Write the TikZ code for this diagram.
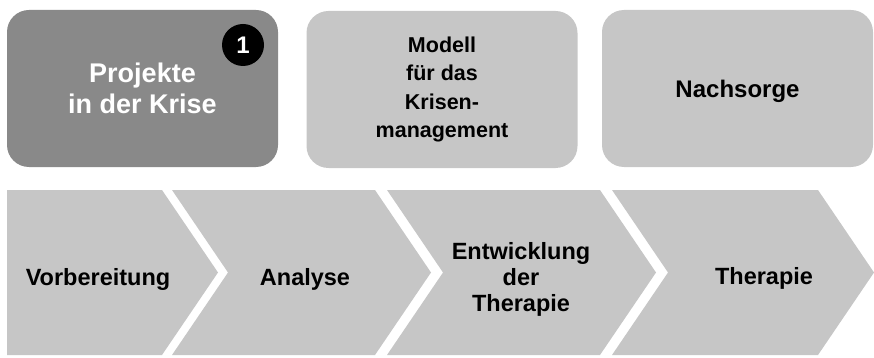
\documentclass[tikz,border=0pt]{standalone}
\usepackage{fontspec}
\setmainfont{Liberation Sans}
\usepackage{tikz}
\definecolor{darkbox}{HTML}{898989}
\definecolor{lightbox}{HTML}{C6C6C6}

\begin{document}
\begin{tikzpicture}[x=1pt, y=-1pt,
  box/.style={rounded corners=22pt, minimum width=271pt, minimum height=157pt,
    align=center, inner sep=0pt, font=\bfseries},
  lbl/.style={align=center, font=\bfseries\fontsize{23.5}{26}\selectfont}]
\useasboundingbox (0,0) rectangle (874,358);
% top row
\node[box, fill=darkbox, text=white, font=\bfseries\fontsize{27}{30.4}\selectfont]
  (krise) at (142.5,88.5) {Projekte\\in der Krise};
\node[box, fill=lightbox, font=\bfseries\fontsize{21.5}{28.5}\selectfont]
  (modell) at (442,89.5) {Modell\\für das\\Krisen-\\management};
\node[box, fill=lightbox, text depth=0pt, font=\bfseries\fontsize{24}{28}\selectfont]
  (nach) at (737.5,88.5) {Nachsorge};
\node[circle, fill=black, text=white, minimum size=42pt, inner sep=0pt,
  font=\bfseries\fontsize{24}{24}\selectfont] (eins) at (243,45) {1};
% phases
\fill[lightbox] (7,190) -- (162,190) -- (218,272.5) -- (162,355) -- (7,355) -- cycle;
\foreach \a/\b in {172/375, 387/600, 612/818}
  \fill[lightbox] (\a,190) -- (\b,190) -- (\b+56,272.5) -- (\b,355) -- (\a,355)
    -- (\a+56,272.5) -- cycle;
\node[lbl, text depth=0pt] (vorb) at (98,277) {Vorbereitung};
\node[lbl, text depth=0pt] (anal) at (305,277) {Analyse};
\node[lbl] (entw) at (521,279) {Entwicklung\\der\\Therapie};
\node[lbl, text depth=0pt] (ther) at (764,276) {Therapie};
\end{tikzpicture}
\end{document}
